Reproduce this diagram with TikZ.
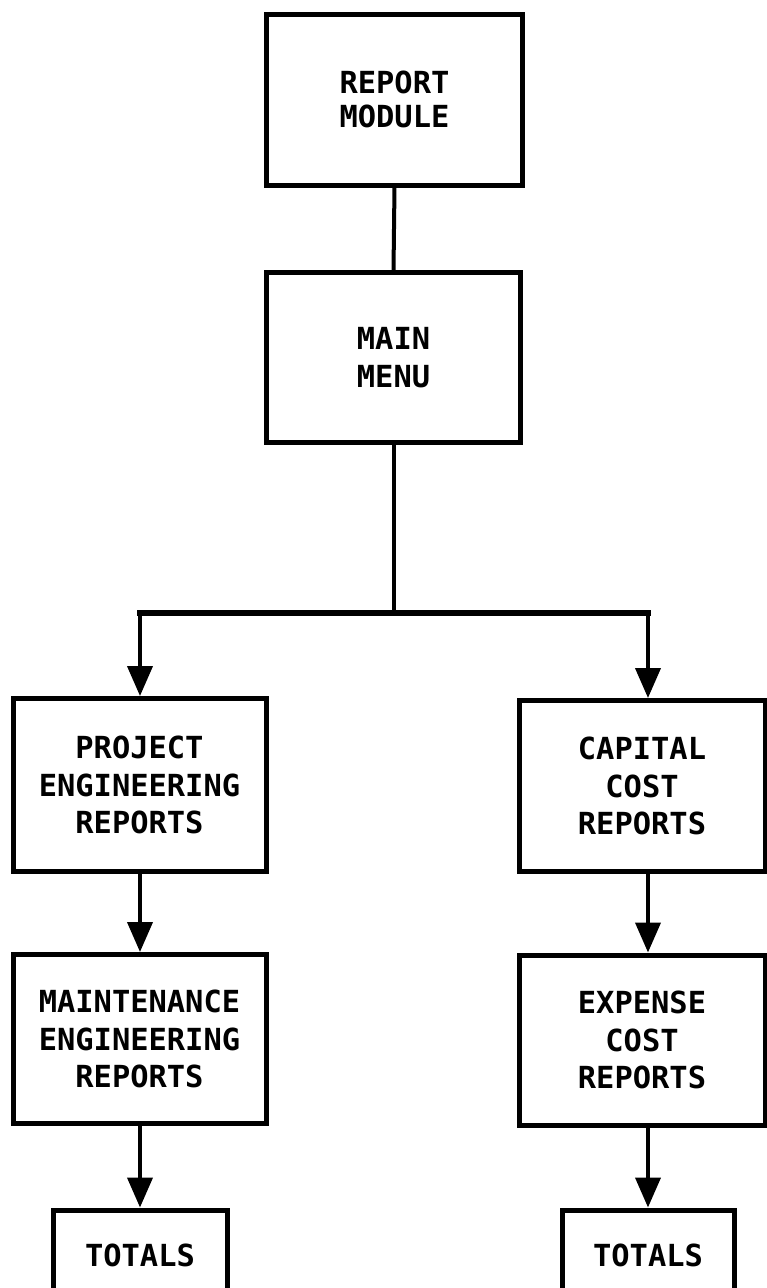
\documentclass[tikz,border=0pt]{standalone}
\usepackage{fontspec}
\usetikzlibrary{arrows.meta}
\newfontfamily\lettering{DejaVu Sans Mono Bold}
\begin{document}
\begin{tikzpicture}[x=1pt,y=-1pt,
  box/.style={draw=black, line width=5pt, fill=white, inner sep=0pt,
    align=center, font=\lettering\fontsize{30.4}{37.5}\selectfont},
  link/.style={draw=black, line width=4pt},
  arr/.style={link, -{Triangle[length=30pt,width=25pt]}}]
\useasboundingbox (0,0) rectangle (767,1288);
\clip (0,0) rectangle (767,1288);

% menu hierarchy
\node[box, minimum width=256pt, minimum height=171pt,
      font=\lettering\fontsize{30.4}{34}\selectfont] (rm) at (394.5,99.5) {REPORT\\MODULE};
\node[box, minimum width=254pt, minimum height=170pt] (mm) at (393.5,357.5) {MAIN\\MENU};

\node[box, minimum width=253pt, minimum height=173pt] (pe) at (139.5,785) {PROJECT\\ENGINEERING\\REPORTS};
\node[box, minimum width=246pt, minimum height=171pt] (cc) at (642,786) {CAPITAL\\COST\\REPORTS};

\node[box, minimum width=253pt, minimum height=169pt] (me) at (139.5,1039) {MAINTENANCE\\ENGINEERING\\REPORTS};
\node[box, minimum width=246pt, minimum height=170pt] (ec) at (642,1040) {EXPENSE\\COST\\REPORTS};

\node[box, minimum width=174pt, minimum height=90pt] (tl) at (140,1255) {TOTALS};
\node[box, minimum width=172pt, minimum height=90pt] (tr) at (648,1255) {TOTALS};

% branch points
\coordinate (j)  at (393.5,613);
\coordinate (jl) at (140,613);
\coordinate (jr) at (648,613);

\draw[link] (rm.south) -- (mm.north);
\draw[link] (mm.south) -- (j);
\draw[link, line width=5.5pt, line cap=rect] (jl) -- (jr);
\draw[arr] (jl) -- (jl |- pe.north);
\draw[arr] (jr) -- (jr |- cc.north);
\draw[arr] (pe.south -| jl) -- (me.north -| jl);
\draw[arr] (cc.south -| jr) -- (ec.north -| jr);
\draw[arr] (me.south -| jl) -- (tl.north);
\draw[arr] (ec.south -| jr) -- (tr.north);
\end{tikzpicture}
\end{document}
